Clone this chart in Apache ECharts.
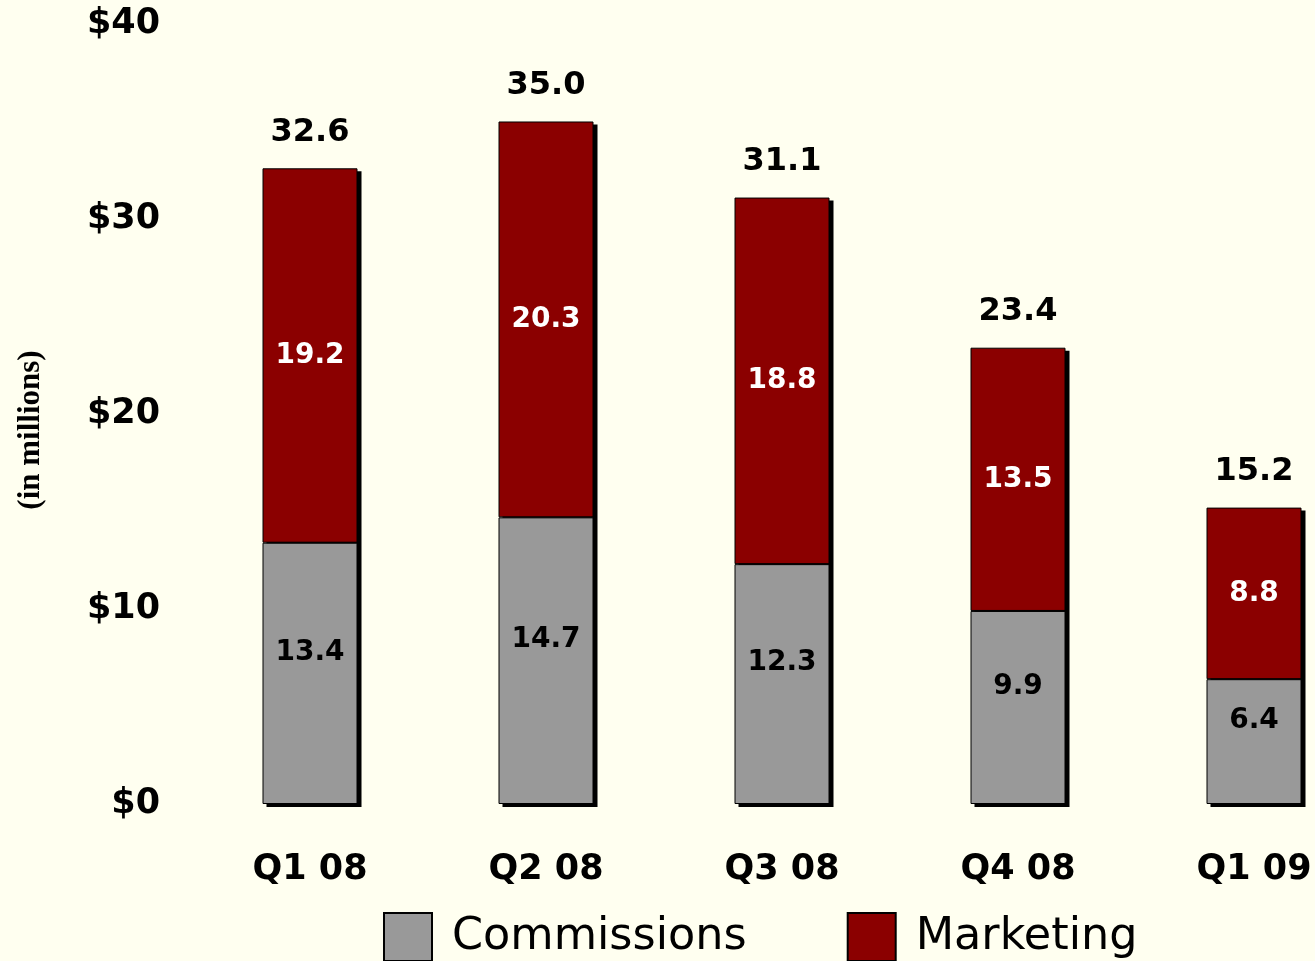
<!DOCTYPE html>
<html>
<head>
<meta charset="utf-8">
<script src="https://cdn.jsdelivr.net/npm/echarts@6/dist/echarts.min.js"></script>
<style>
html,body{margin:0;padding:0;background:#FFFFF0;overflow:hidden;}
#chart{width:1400px;height:961px;}
</style>
</head>
<body>
<div id="chart"></div>
<script>
const categories = ['Q1 08', 'Q2 08', 'Q3 08', 'Q4 08', 'Q1 09'];
const commissions = [13.4, 14.7, 12.3, 9.9, 6.4];
const marketing = [19.2, 20.3, 18.8, 13.5, 8.8];
const totals = [32.6, 35.0, 31.1, 23.4, 15.2];
const yTicks = ['$0', '$10', '$20', '$30', '$40'];

const chart = echarts.init(document.getElementById('chart'));
const font = 'DejaVu Sans';
const BAR_W = 95;

chart.setOption({
  backgroundColor: '#FFFFF0',
  animation: false,
  grid: {left: 192, top: 24, width: 1180, height: 780, containLabel: false},
  graphic: [{
    type: 'text', x: 31, y: 430, rotation: Math.PI / 2,
    style: {text: '(in millions)', fontFamily: 'Liberation Serif', fontWeight: 'bold', fontSize: 31, fill: '#000',
      textAlign: 'center', textVerticalAlign: 'middle'}
  }],
  legend: {
    left: 383, top: 912, padding: 0,
    itemWidth: 48, itemHeight: 48, itemGap: 100,
    icon: 'rect',
    data: ['Commissions', 'Marketing'],
    textStyle: {fontFamily: font, fontSize: 44.5, color: '#000', padding: [8, 0, 0, 15]},
    itemStyle: {borderColor: '#000', borderWidth: 2}
  },
  xAxis: {
    type: 'category',
    data: categories,
    axisLine: {show: false},
    axisTick: {show: false},
    axisLabel: {fontFamily: font, fontWeight: 'bold', fontSize: 35, color: '#000', margin: 48}
  },
  yAxis: {
    type: 'value',
    min: 0, max: 40, interval: 10,
    axisLine: {show: false},
    axisTick: {show: false},
    splitLine: {show: false},
    axisLabel: {
      fontFamily: font, fontWeight: 'bold', fontSize: 35, color: '#000', margin: 32, padding: [6, 0, 0, 0],
      formatter: v => yTicks[Math.round(v / 10)]
    }
  },
  series: [
    {
      name: 'Shadow', type: 'custom', z: 1, silent: true,
      data: totals.map((t, i) => [i, t]),
      encode: {x: 0, y: 1},
      renderItem: (params, api) => {
        const top = api.coord([api.value(0), api.value(1)]);
        const base = api.coord([api.value(0), 0]);
        return {
          type: 'rect',
          shape: {x: top[0] - BAR_W / 2 + 4, y: top[1] + 3, width: BAR_W, height: base[1] - top[1]},
          style: {fill: '#000'}
        };
      }
    },
    {
      name: 'Commissions', type: 'bar', stack: 'a', z: 3, barWidth: BAR_W,
      data: commissions,
      itemStyle: {color: '#999999', borderColor: '#000', borderWidth: 1},
      label: {show: true, position: 'inside', offset: [0, -21], fontFamily: font, fontWeight: 'bold', fontSize: 28, color: '#000',
        formatter: p => p.value.toFixed(1)}
    },
    {
      name: 'Marketing', type: 'bar', stack: 'a', z: 2, barWidth: BAR_W,
      data: marketing,
      itemStyle: {color: '#8B0000', borderColor: '#000', borderWidth: 1},
      label: {show: true, position: 'inside', fontFamily: font, fontWeight: 'bold', fontSize: 28, color: '#fff',
        formatter: p => p.value.toFixed(1)}
    },
    {
      name: 'Total', type: 'bar', stack: 'a', z: 4, barWidth: BAR_W,
      data: totals.map(() => 0),
      itemStyle: {color: 'transparent'},
      label: {show: true, position: 'top', distance: 20, fontFamily: font, fontWeight: 'bold', fontSize: 32, color: '#000',
        formatter: p => totals[p.dataIndex].toFixed(1)}
    }
  ]
});
</script>
</body>
</html>
